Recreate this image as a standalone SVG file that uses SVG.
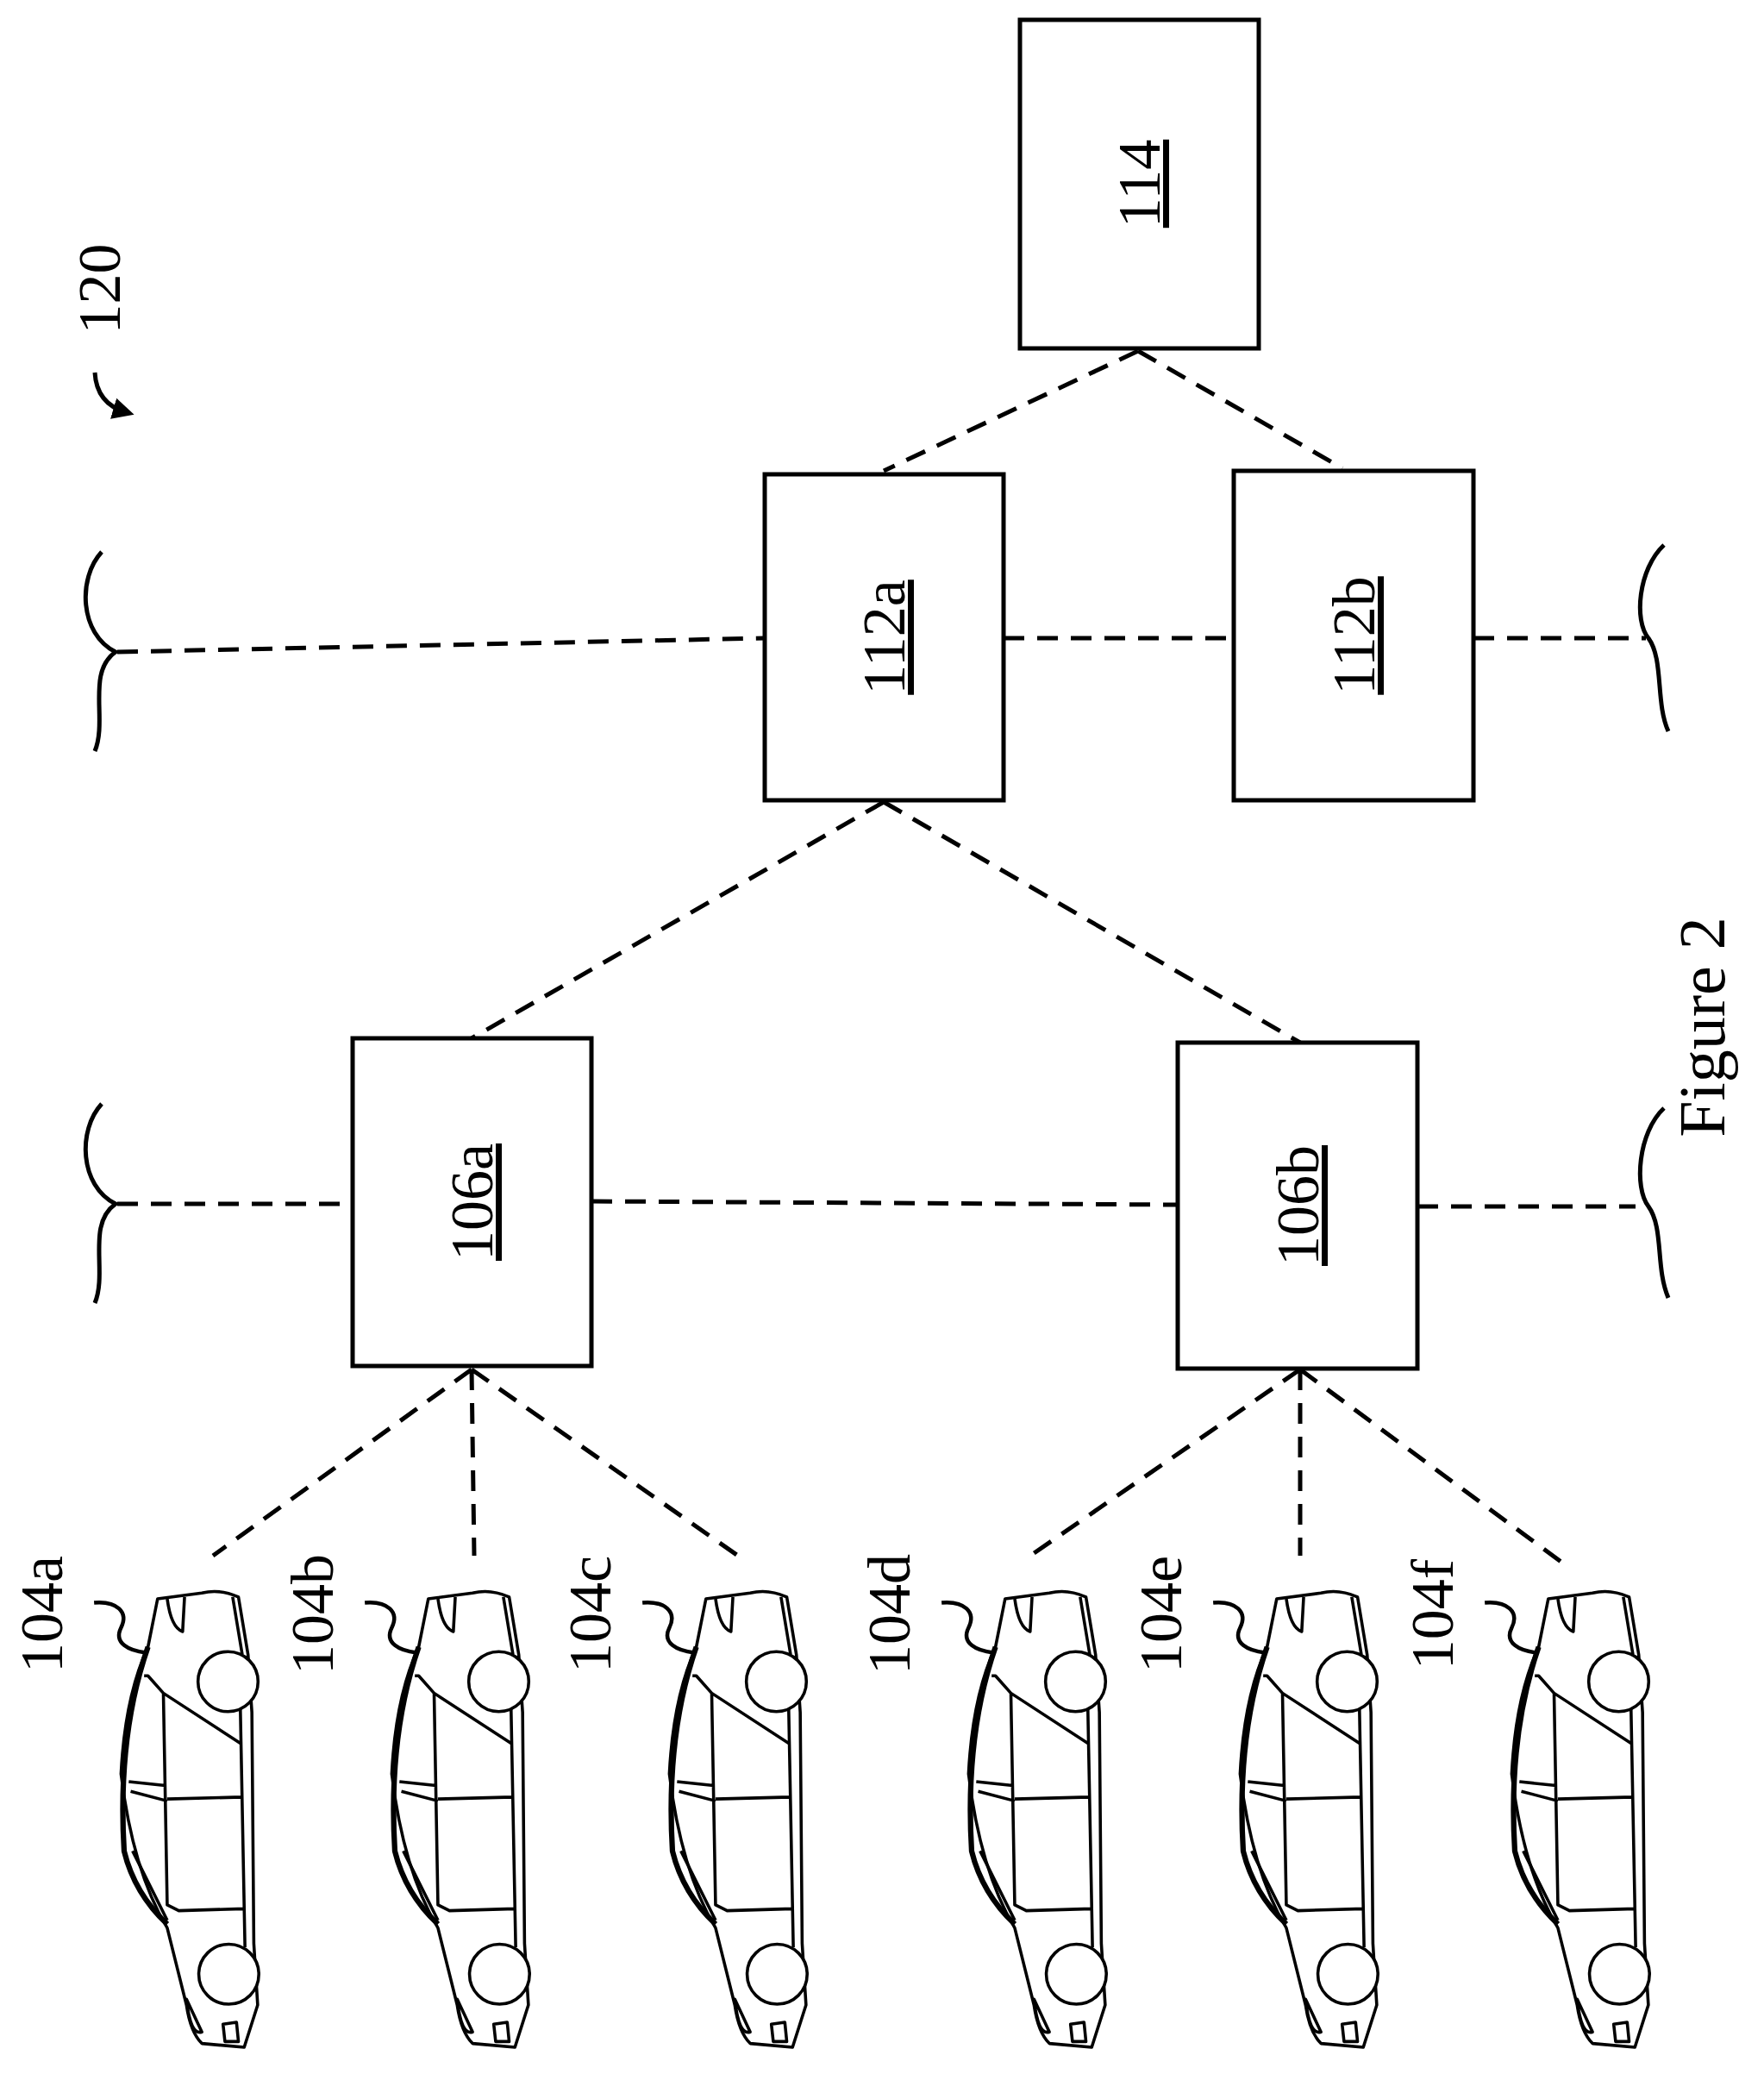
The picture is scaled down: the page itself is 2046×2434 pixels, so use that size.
<svg xmlns="http://www.w3.org/2000/svg" width="2046" height="2434" viewBox="0 0 2046 2434">
<style>
.box{fill:#fff;stroke:#000;stroke-width:5}
.d{fill:none;stroke:#000;stroke-width:5;stroke-dasharray:24 15}
.t{font-family:"Liberation Serif","Times New Roman",Times,serif;font-size:70px;text-anchor:middle;fill:#000}
.u{text-decoration:underline}
.c{fill:#fff;stroke:#000;stroke-width:8;stroke-linejoin:round}
.cl{fill:none;stroke:#000;stroke-width:8;stroke-linejoin:round}
.br{fill:none;stroke:#000;stroke-width:5}
.sq{fill:none;stroke:#000;stroke-width:10}
</style>
<defs>
<marker id="ah" markerWidth="6" markerHeight="6" refX="3" refY="3" orient="auto" markerUnits="strokeWidth"><path d="M0,0.5 L5,3 L0,5.5 Z"/></marker>
<g id="car">
<path class="c" d="M405 345 L520 330 Q565 318 615 340 L640 490 L650 640 L655 1240 L665 1400 L630 1510 L520 1500 Q490 1470 480 1400 L430 1200 Q340 1050 310 800 Q320 600 380 470 Z"/>
<path d="M380 470 Q300 700 318 1000 Q345 1110 430 1190" fill="none" stroke="#000" stroke-width="14"/>
<path class="cl" d="M370 545 L380 545 L420 590 L620 720 M420 590 L430 1140 L460 1155 L630 1150 M430 865 L625 860 M330 820 L425 830 M335 845 L430 870 M600 340 L625 490 M620 630 L632 1250 M340 1000 L430 1180"/>
<path class="cl" d="M430 345 Q440 420 470 430 L475 340"/>
<path class="cl" d="M480 1385 Q490 1480 520 1470 Z M575 1450 L610 1445 L615 1495 L580 1495 Z"/>
<circle class="c" cx="588" cy="560" r="78"/>
<circle class="c" cx="590" cy="1320" r="78"/>
<path class="sq" d="M240 355 C300 350 330 380 310 420 C290 460 330 480 375 485"/>
</g>
</defs>
<g id="connectors">
<path class="d" d="M1320 407 L1025 546 M1320 407 L1557 543"/>
<path class="d" d="M1025 930 L547 1204 M1025 930 L1508 1209"/>
<path class="d" d="M136 756 L887 740 M1164 740 L1431 740 M1709 740 L1909 740"/>
<path class="d" d="M136 1396 L409 1396 M686 1393 L1366 1397 M1644 1399 L1897 1399"/>
<path class="d" d="M547 1588 L247 1804 M547 1588 L550 1804 M547 1588 L856 1804"/>
<path class="d" d="M1508 1588 L1195 1804 M1508 1588 L1508 1804 M1508 1588 L1812 1812"/>
</g>
<g id="braces">
<path class="br" d="M118 640 C90 670 92 735 134 756 C100 780 125 835 110 871"/>
<path class="br" d="M118 1280 C90 1310 92 1375 134 1396 C100 1420 125 1475 110 1511"/>
<path class="br" d="M1930 632 C1900 660 1895 720 1912 740 C1930 765 1920 815 1935 848"/>
<path class="br" d="M1930 1285 C1900 1313 1895 1377 1912 1399 C1930 1424 1920 1470 1935 1505"/>
</g>
<g id="n114"><rect class="box" x="1183" y="23" width="277" height="381"/><text class="t u" transform="translate(1345 213) rotate(-90)">114</text></g>
<g id="n112a"><rect class="box" x="887" y="550" width="277" height="378"/><text class="t u" transform="translate(1049 739) rotate(-90)">112a</text></g>
<g id="n112b"><rect class="box" x="1431" y="546" width="278" height="382"/><text class="t u" transform="translate(1594 737) rotate(-90)">112b</text></g>
<g id="n106a"><rect class="box" x="409" y="1204" width="277" height="380"/><text class="t u" transform="translate(571 1394) rotate(-90)">106a</text></g>
<g id="n106b"><rect class="box" x="1366" y="1209" width="278" height="378"/><text class="t u" transform="translate(1529 1398) rotate(-90)">106b</text></g>
<g id="cars">
<use href="#car" transform="translate(2 1700) scale(0.4464)"/>
<use href="#car" transform="translate(316 1700) scale(0.4464)"/>
<use href="#car" transform="translate(638 1700) scale(0.4464)"/>
<use href="#car" transform="translate(985 1700) scale(0.4464)"/>
<use href="#car" transform="translate(1300 1700) scale(0.4464)"/>
<use href="#car" transform="translate(1615 1700) scale(0.4464)"/>
<text class="t" transform="translate(72 1872) rotate(-90)">104a</text>
<text class="t" transform="translate(386 1872) rotate(-90)">104b</text>
<text class="t" transform="translate(708 1872) rotate(-90)">104c</text>
<text class="t" transform="translate(1055 1872) rotate(-90)">104d</text>
<text class="t" transform="translate(1370 1872) rotate(-90)">104e</text>
<text class="t" transform="translate(1685 1872) rotate(-90)">104f</text>
</g>
<g id="label120">
<text class="t" transform="translate(139 335) rotate(-90)">120</text>
<path d="M110 432 Q112 468 146 478" fill="none" stroke="#000" stroke-width="5" marker-end="url(#ah)"/>
</g>
<text class="t" style="font-size:76px" transform="translate(2000 1191) rotate(-90)">Figure 2</text>
</svg>
